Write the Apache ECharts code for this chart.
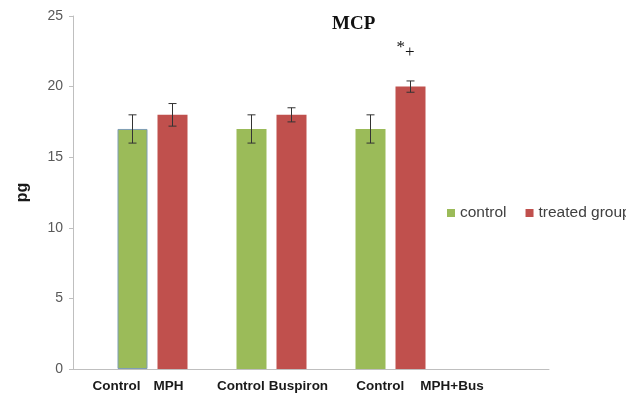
<!DOCTYPE html>
<html>
<head>
<meta charset="utf-8">
<script src="https://cdn.jsdelivr.net/npm/echarts@6/dist/echarts.min.js"></script>
<style>
html,body{margin:0;padding:0;background:#fff;}
#chart{width:626px;height:398px;}
</style>
</head>
<body>
<div id="chart"></div>
<script>
// ---- data ----
var categories = ['Control MPH', 'Control Buspiron', 'Control MPH+Bus', ''];
var groupLeft = ['Control', 'Control', 'Control', ''];
var groupRight = ['MPH', 'Buspiron', 'MPH+Bus', ''];
var controlValues = [17, 17, 17, null];
var treatedValues = [18, 18, 20, null];
var controlErrors = [1, 1, 1, null];
var treatedErrors = [0.8, 0.5, 0.4, null];
var seriesNames = ['control', 'treated group'];
var titleText = 'MCP';
var annotationText = ['*', '+'];
var annotationIndex = 2;
var yName = 'pg';

var GREEN = '#9bbb59', RED = '#c0504d';
var BAR_W = 30, BAR_GAP_PX = 10;

var chart = echarts.init(document.getElementById('chart'), null, {renderer: 'canvas'});

// per-category label styling (shift and word gap)
var labelPad = [[11, 13], [42, 4], [99, 16], [0, 0]];
var rich = {};
labelPad.forEach(function (p, i) {
  rich['l' + i] = {fontFamily: 'Liberation Sans', fontWeight: 'bold', fontSize: 13.5, color: '#1a1a1a', padding: [0, 0, 0, p[0]]};
  rich['r' + i] = {fontFamily: 'Liberation Sans', fontWeight: 'bold', fontSize: 13.5, color: '#1a1a1a', padding: [0, 0, 0, p[1]]};
});

function errorSeries(values, errors, offset) {
  return {
    type: 'custom',
    z: 5,
    silent: true,
    data: values.map(function (v, i) { return v == null ? [i, null, null] : [i, v, errors[i]]; }),
    renderItem: function (params, api) {
      var v = api.value(1), e = api.value(2);
      if (v == null || isNaN(v)) return;
      var top = api.coord([api.value(0), v + e]);
      var bot = api.coord([api.value(0), v - e]);
      var x = top[0] + offset;
      var cap = 4;
      var st = {stroke: '#333333', lineWidth: 1};
      return {
        type: 'group',
        children: [
          {type: 'line', shape: {x1: x, y1: top[1], x2: x, y2: bot[1]}, style: st},
          {type: 'line', shape: {x1: x - cap, y1: top[1], x2: x + cap, y2: top[1]}, style: st},
          {type: 'line', shape: {x1: x - cap, y1: bot[1], x2: x + cap, y2: bot[1]}, style: st}
        ]
      };
    }
  };
}

var treatedData = treatedValues.map(function (v, i) {
  if (i === annotationIndex) {
    return {
      value: v,
      label: {
        show: true, position: 'top', distance: 26, offset: [-5, 0],
        formatter: '{a|' + annotationText[0] + '}{b|' + annotationText[1] + '}',
        rich: {
          a: {fontFamily: 'Liberation Serif', fontSize: 17, color: '#111', padding: [0, 0, 4, 0]},
          b: {fontFamily: 'Liberation Serif', fontSize: 17, color: '#111', padding: [6, 0, 0, 0]}
        }
      }
    };
  }
  return v;
});

var controlData = controlValues.map(function (v, i) {
  if (i === 0) return {value: v, itemStyle: {borderColor: '#7f9db5', borderWidth: 1}};
  return v;
});

var option = {
  backgroundColor: '#ffffff',
  animation: false,
  title: {
    text: titleText,
    left: 327, top: 10,
    textStyle: {fontFamily: 'Liberation Serif', fontWeight: 'bold', fontSize: 19, color: '#111'}
  },
  legend: {
    data: seriesNames,
    orient: 'horizontal',
    left: 442, top: 200, width: 400,
    icon: 'rect', itemWidth: 8, itemHeight: 8, itemGap: 19,
    textStyle: {fontFamily: 'Liberation Sans', fontSize: 15.5, color: '#404040'}
  },
  grid: {left: 73, right: 77, top: 16, bottom: 29, containLabel: false},
  xAxis: {
    type: 'category',
    data: categories,
    axisLine: {lineStyle: {color: '#bfbfbf', width: 1}},
    axisTick: {show: false},
    axisLabel: {
      interval: 0, margin: 10,
      formatter: function (val, i) {
        if (!groupLeft[i]) return '';
        return '{l' + i + '|' + groupLeft[i] + '}{r' + i + '|' + groupRight[i] + '}';
      },
      rich: rich
    }
  },
  yAxis: {
    type: 'value', min: 0, max: 25, interval: 5,
    name: yName, nameLocation: 'middle', nameRotate: 90, nameGap: 42,
    nameTextStyle: {fontFamily: 'Liberation Sans', fontWeight: 'bold', fontSize: 16, color: '#1a1a1a'},
    axisLine: {show: true, lineStyle: {color: '#bfbfbf'}},
    axisTick: {show: true, length: 4, lineStyle: {color: '#bfbfbf'}},
    splitLine: {show: false},
    axisLabel: {fontFamily: 'Liberation Sans', fontSize: 14, color: '#595959', margin: 10}
  },
  series: [
    {name: 'spacer', type: 'bar', data: categories.map(function () { return null; }), barWidth: BAR_W, barGap: (BAR_GAP_PX / BAR_W * 100) + '%', silent: true},
    {name: seriesNames[0], type: 'bar', data: controlData, barWidth: BAR_W, barGap: (BAR_GAP_PX / BAR_W * 100) + '%', itemStyle: {color: GREEN}},
    {name: seriesNames[1], type: 'bar', data: treatedData, barWidth: BAR_W, barGap: (BAR_GAP_PX / BAR_W * 100) + '%', itemStyle: {color: RED}},
    errorSeries(controlValues, controlErrors, 0),
    errorSeries(treatedValues, treatedErrors, BAR_W + BAR_GAP_PX)
  ]
};
chart.setOption(option);
</script>
</body>
</html>
